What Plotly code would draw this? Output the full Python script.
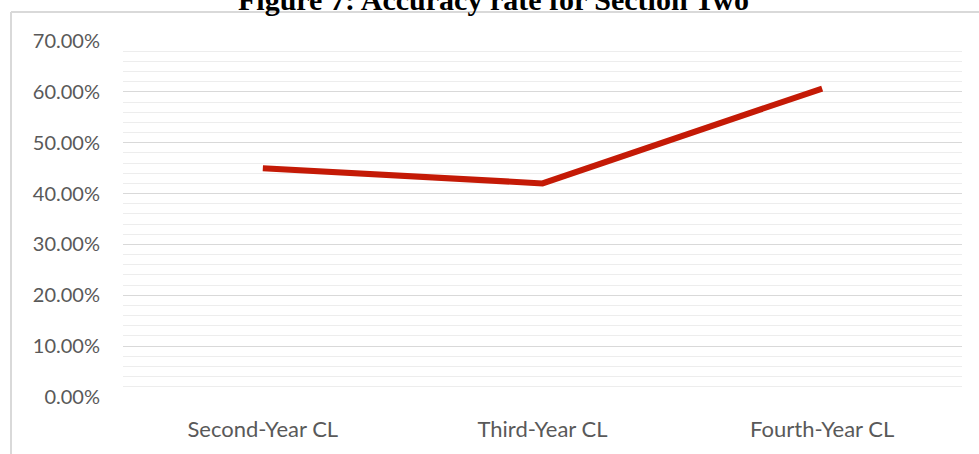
import plotly.graph_objects as go

categories = ["Second-Year CL", "Third-Year CL", "Fourth-Year CL"]
accuracy = [0.45, 0.42, 0.6065]
y_ticks = [0, 0.1, 0.2, 0.3, 0.4, 0.5, 0.6, 0.7]
y_tick_labels = ["0.00%", "10.00%", "20.00%", "30.00%", "40.00%", "50.00%", "60.00%", "70.00%"]
title_text = "Figure 7: Accuracy rate for Section Two"

W, H = 979, 454
ml, mr, mt, mb = 123, 17, 41, 57
pw, ph = W - ml - mr, H - mt - mb

fig = go.Figure()
fig.add_trace(go.Scatter(
    x=categories, y=accuracy, mode="lines",
    line=dict(color="#C41A06", width=6),
    hoverinfo="skip", showlegend=False,
))

fig.update_layout(
    width=W, height=H,
    margin=dict(l=ml, r=mr, t=mt, b=mb, pad=0),
    paper_bgcolor="white", plot_bgcolor="white",
    font=dict(family="Lato", color="#595959", size=18),
    showlegend=False,
)
fig.update_yaxes(
    range=[0, 0.7], tickvals=y_ticks, ticktext=y_tick_labels,
    showgrid=True, gridcolor="#D9D9D9", gridwidth=1,
    minor=dict(dtick=0.02, showgrid=True, gridcolor="#EDEDED", gridwidth=1),
    zeroline=False, showline=False, ticks="", ticklabelstandoff=22,
    tickfont=dict(family="Lato", size=20, color="#595959"),
    automargin=False,
)
fig.update_xaxes(
    range=[-0.5, 2.5],
    showgrid=False, zeroline=False, showline=False, ticks="",
    ticklabelstandoff=17,
    tickfont=dict(family="Lato", size=22, color="#595959"),
    automargin=False,
)

# frame of chart area (left and top edges visible)
fx = (11 - ml) / pw
fy = (H - mb - 12) / ph
fig.add_shape(type="line", xref="paper", yref="paper", x0=fx, x1=fx, y0=fy, y1=-0.2,
              line=dict(color="#D9D9D9", width=2))
fig.add_shape(type="line", xref="paper", yref="paper", x0=fx, x1=1.05, y0=fy, y1=fy,
              line=dict(color="#D9D9D9", width=2))

ty = (H - mb - 18) / ph
fig.add_annotation(
    text=title_text, xref="paper", yref="paper",
    x=(493 - ml) / pw, y=ty, xanchor="center", yanchor="bottom",
    showarrow=False,
    font=dict(family="Liberation Serif", size=30, color="black", weight="bold"),
)

fig.write_html("out.html")
